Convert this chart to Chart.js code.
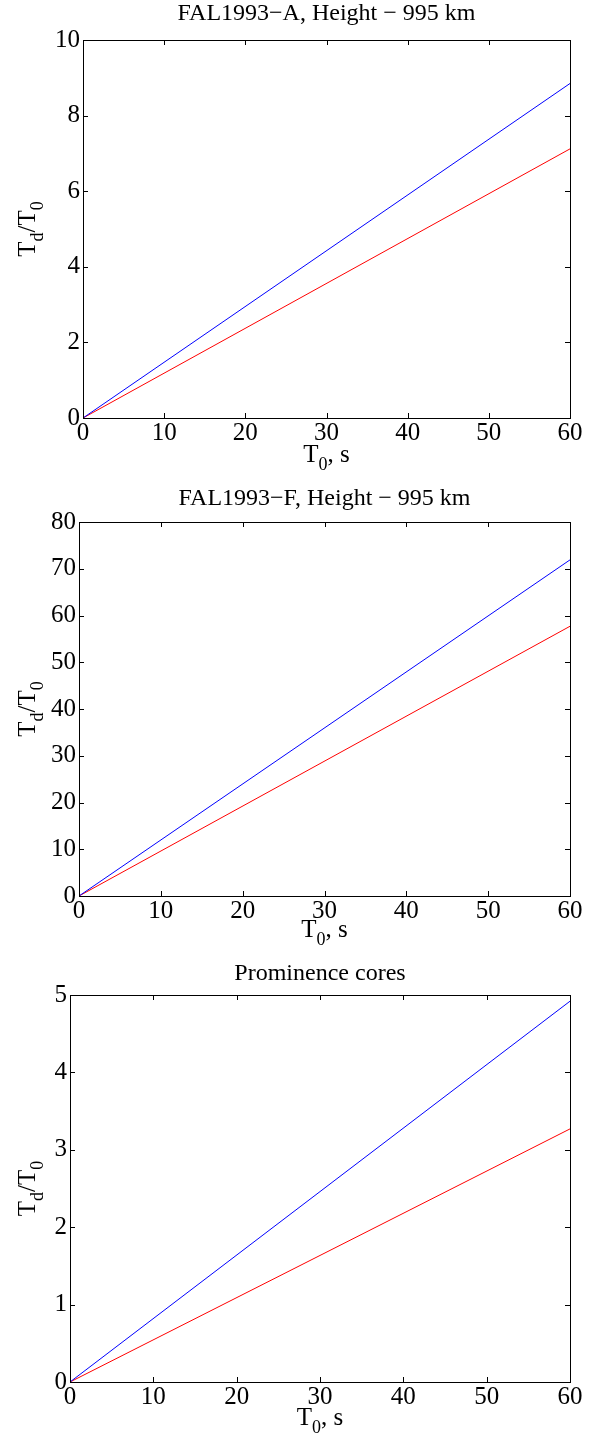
<!DOCTYPE html>
<html>
<head>
<meta charset="utf-8">
<script src="https://cdn.jsdelivr.net/npm/chart.js@4.4.1/dist/chart.umd.min.js"></script>
<style>
html,body{margin:0;padding:0;background:#fff;}
#wrap{position:relative;width:601px;height:1445px;}
canvas{position:absolute;left:0;top:0;}
</style>
</head>
<body>
<div id="wrap">
<canvas id="c1" width="601" height="1445"></canvas>
<canvas id="c2" width="601" height="1445"></canvas>
<canvas id="c3" width="601" height="1445"></canvas>
</div>
<script>
// ---- data ----
const xValues = [0, 60];
const xTicks = [0, 10, 20, 30, 40, 50, 60];

const titleA = 'FAL1993\u2212A, Height \u2212 995 km';
const blueA = [0, 8.85];
const redA = [0, 7.12];
const yTicksA = [0, 2, 4, 6, 8, 10];

const titleF = 'FAL1993\u2212F, Height \u2212 995 km';
const blueF = [0, 71.9];
const redF = [0, 57.7];
const yTicksF = [0, 10, 20, 30, 40, 50, 60, 70, 80];

const titleP = 'Prominence cores';
const blueP = [0, 4.92];
const redP = [0, 3.27];
const yTicksP = [0, 1, 2, 3, 4, 5];

const FONT = "'Liberation Serif', 'Times New Roman', serif";
const W = 601, H = 1445;

function pts(xs, ys){ return xs.map((x,i)=>({x:x, y:ys[i]})); }

function drawParts(ctx, parts, size){
  let w = 0;
  for (const p of parts){
    ctx.font = (p.sub ? Math.round(size*0.72) : size) + 'px ' + FONT;
    w += ctx.measureText(p.t).width;
  }
  return w;
}
function fillParts(ctx, parts, size, x, y){
  let cx = x;
  for (const p of parts){
    const fs = p.sub ? Math.round(size*0.72) : size;
    ctx.font = fs + 'px ' + FONT;
    ctx.fillText(p.t, cx, p.sub ? y + size*0.33 : y);
    cx += ctx.measureText(p.t).width;
  }
}

const frame = {
  id: 'frame',
  afterDraw(chart, args, o){
    const ctx = chart.ctx, a = chart.chartArea;
    const xs = chart.scales.x, ys = chart.scales.y;
    ctx.save();
    ctx.strokeStyle = '#000';
    ctx.lineWidth = 1;
    ctx.strokeRect(Math.round(a.left)+0.5, Math.round(a.top)+0.5, Math.round(a.right-a.left), Math.round(a.bottom-a.top));
    const L = 5;
    ctx.beginPath();
    xs.ticks.forEach(t=>{
      const px = Math.round(xs.getPixelForValue(t.value))+0.5;
      ctx.moveTo(px, a.bottom); ctx.lineTo(px, a.bottom - L);
      ctx.moveTo(px, a.top); ctx.lineTo(px, a.top + L);
    });
    ys.ticks.forEach(t=>{
      const py = Math.round(ys.getPixelForValue(t.value))+0.5;
      ctx.moveTo(a.left, py); ctx.lineTo(a.left + L, py);
      ctx.moveTo(a.right, py); ctx.lineTo(a.right - L, py);
    });
    ctx.stroke();

    ctx.fillStyle = '#000';
    const cx = (a.left + a.right)/2, cy = (a.top + a.bottom)/2;
    ctx.font = o.titleSize + 'px ' + FONT;
    ctx.textAlign = 'center';
    ctx.textBaseline = 'alphabetic';
    ctx.fillText(o.title, cx, a.top + o.titleDy);
    ctx.textAlign = 'left';
    const xp = [{t:'T'},{t:'0',sub:true},{t:', s'}];
    const xw = drawParts(ctx, xp, o.labelSize);
    fillParts(ctx, xp, o.labelSize, cx - xw/2, a.bottom + o.xlabDy);
    const yp = [{t:'T'},{t:'d',sub:true},{t:'/T'},{t:'0',sub:true}];
    const yw = drawParts(ctx, yp, o.labelSize);
    ctx.translate(o.ylabX, cy);
    ctx.rotate(-Math.PI/2);
    fillParts(ctx, yp, o.labelSize, -yw/2, 0);
    ctx.restore();
  }
};

function makeChart(id, blue, red, yTicks, area, opts){
  const ymin = yTicks[0], ymax = yTicks[yTicks.length-1];
  const step = yTicks[1]-yTicks[0];
  return new Chart(document.getElementById(id), {
    type: 'line',
    data: {
      datasets: [
        {data: pts(xValues, blue), borderColor:'#0000ff', borderWidth:1, pointRadius:0, fill:false, tension:0},
        {data: pts(xValues, red), borderColor:'#ff0000', borderWidth:1, pointRadius:0, fill:false, tension:0}
      ]
    },
    options: {
      responsive:false, animation:false, devicePixelRatio:1,
      events: [],
      layout: {padding:{left:0, right: W - area.right, top: area.top, bottom:0}},
      plugins: {legend:{display:false}, tooltip:{enabled:false}, frame: opts},
      scales: {
        x: {
          type:'linear', min: xTicks[0], max: xTicks[xTicks.length-1],
          grid:{display:false, drawTicks:false}, border:{display:false},
          afterBuildTicks: s => { s.ticks = xTicks.map(v=>({value:v})); },
          afterFit: s => { s.height = H - area.bottom; },
          ticks:{color:'#000', font:{family:FONT, size:opts.tickSize}, padding:0, maxRotation:0, autoSkip:false}
        },
        y: {
          type:'linear', min:ymin, max:ymax,
          grid:{display:false, drawTicks:false}, border:{display:false},
          afterBuildTicks: s => { s.ticks = yTicks.map(v=>({value:v})); },
          afterFit: s => { s.width = area.left; },
          ticks:{color:'#000', font:{family:FONT, size:opts.tickSize}, padding:3, autoSkip:false, stepSize:step}
        }
      }
    },
    plugins:[frame]
  });
}

makeChart('c1', blueA, redA, yTicksA, {left:83, right:570, top:40, bottom:418},
  {title:titleA, titleSize:24, titleDy:-20, labelSize:25, xlabDy:44, ylabX:35, tickSize:25});
makeChart('c2', blueF, redF, yTicksF, {left:79, right:570, top:522, bottom:896},
  {title:titleF, titleSize:24, titleDy:-17, labelSize:25, xlabDy:41, ylabX:35, tickSize:25});
makeChart('c3', blueP, redP, yTicksP, {left:70, right:570, top:995, bottom:1382},
  {title:titleP, titleSize:24, titleDy:-15, labelSize:25, xlabDy:43, ylabX:35, tickSize:25});
</script>
</body>
</html>
